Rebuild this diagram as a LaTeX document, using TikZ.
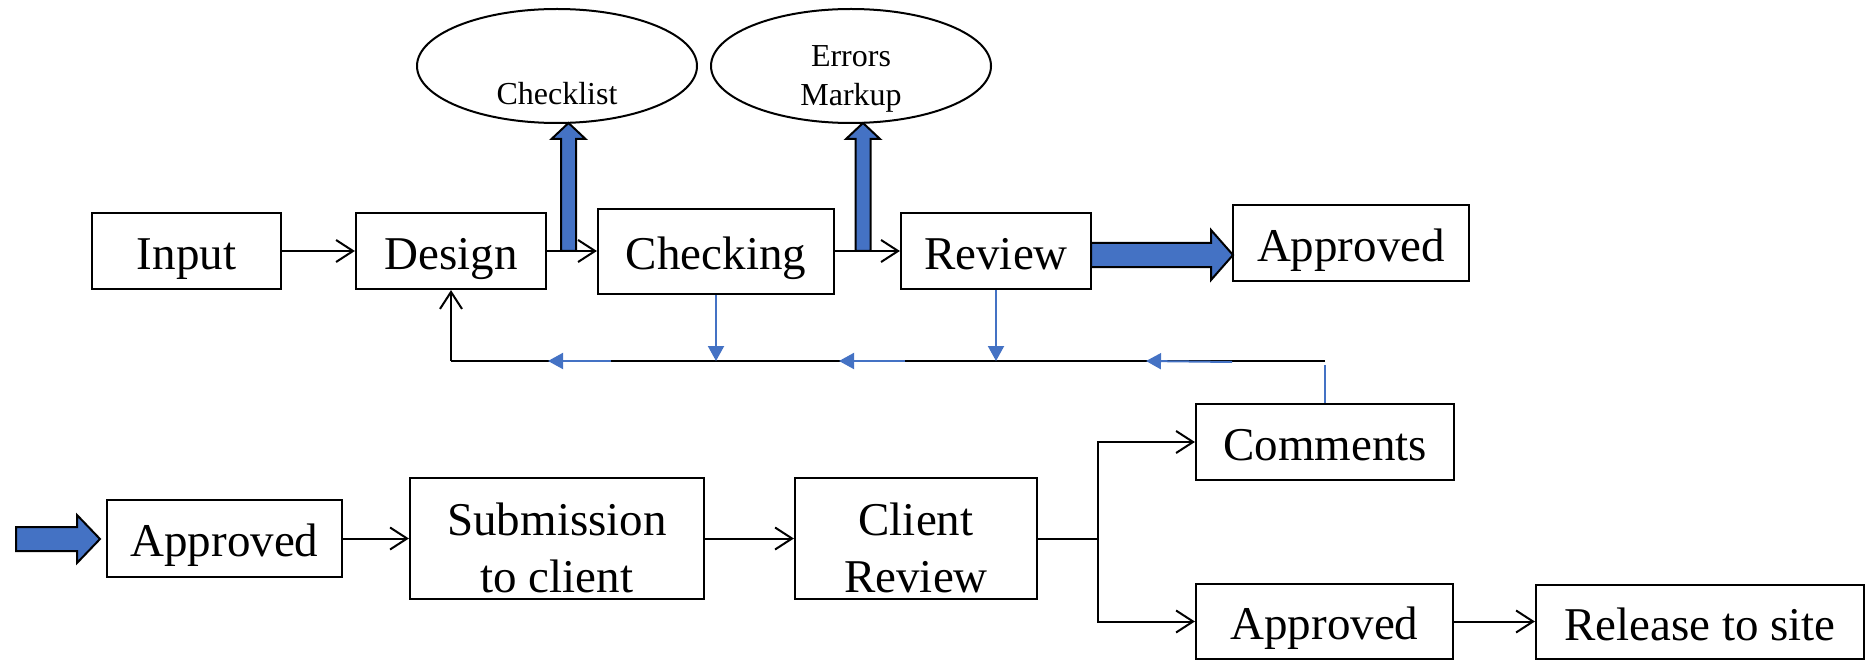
\documentclass[tikz,border=0pt]{standalone}
\usepackage{fontspec}
\setmainfont{Liberation Serif}
\usetikzlibrary{arrows.meta,shapes.geometric}
\definecolor{ofblue}{HTML}{4472C4}
\begin{document}
\begin{tikzpicture}[x=1pt,y=-1pt,
  box/.style={draw, line width=2.2pt, inner sep=0pt, font=\fontsize{47}{57}\selectfont, text height=44.6pt, text depth=8pt},
  emptybox/.style={draw, line width=2.2pt, inner sep=0pt},
  bigtext/.style={inner sep=0pt, font=\fontsize{47}{57}\selectfont, align=center},
  oval/.style={draw, ellipse, line width=2pt, minimum width=280pt, minimum height=114pt, inner sep=0pt},
  smalltext/.style={inner sep=0pt, font=\fontsize{32}{38.4}\selectfont, align=center},
  conn/.style={line width=2pt, -{Straight Barb[length=17pt,width=22pt,line width=2pt]}},
  plain/.style={line width=2pt},
  bconn/.style={ofblue, line width=2pt, -{Triangle[length=15pt,width=16pt]}},
  blockarrow/.style={fill=ofblue, draw=black, line width=2pt, line join=miter}
]
\useasboundingbox (0,0) rectangle (1867,660);

% top row
\node[box, minimum width=189pt, minimum height=76pt] (input) at (186.5,251) {Input};
\node[box, minimum width=190pt, minimum height=76pt] (design) at (451,251) {Design};
\node[box, minimum width=236pt, minimum height=85pt] (checking) at (716,251.5) {Checking};
\node[box, minimum width=190pt, minimum height=76pt] (review) at (996,251) {Review};
\node[box, minimum width=236pt, minimum height=76pt] (appr1) at (1351,243) {Approved};

% ellipses
\node[oval] (checklist) at (557,66) {};
\node[smalltext] (checklistt) at (557,94) {Checklist};
\node[oval] (errors) at (851,66) {};
\node[smalltext] (errorst) at (851,79) {Errors\\Markup};

% lower rows
\node[box, minimum width=258pt, minimum height=76pt] (comments) at (1325,442) {Comments};
\node[box, minimum width=235pt, minimum height=77pt] (appr2) at (224.5,538.5) {Approved};
\node[emptybox, minimum width=294pt, minimum height=121pt] (submission) at (557,538.5) {};
\node[bigtext] (submissiont) at (557,548) {Submission\\to client};
\node[emptybox, minimum width=242pt, minimum height=121pt] (client) at (916,538.5) {};
\node[bigtext] (clientt) at (916,548) {Client\\Review};
\node[box, minimum width=257pt, minimum height=75pt] (appr3) at (1324.5,621.5) {Approved};
\node[box, minimum width=328pt, minimum height=74pt] (release) at (1700,622) {Release to site};

% top connectors
\draw[conn] (input.east) -- (design.west);
\draw[conn] (design.east) -- (design.east -| checking.west);
\draw[conn] (checking.east |- review.west) -- (review.west);

% block arrows
\draw[blockarrow] (561,251) -- (561,139) -- (551.5,139) -- (568.5,123) -- (585.5,139) -- (576,139) -- (576,251) -- cycle;
\draw[blockarrow] (855.5,251) -- (855.5,139) -- (846,139) -- (863,123) -- (880,139) -- (870.5,139) -- (870.5,251) -- cycle;
\draw[blockarrow] (1091,243) -- (1211,243) -- (1211,230) -- (1233,255) -- (1211,280) -- (1211,267) -- (1091,267) -- cycle;
\draw[blockarrow] (16,527) -- (77,527) -- (77,515) -- (100,539) -- (77,563) -- (77,551) -- (16,551) -- cycle;

% feedback loop
\coordinate (fbR) at (1325,361);
\coordinate (fbL) at (451,361);
\draw[ofblue, line width=1.5pt] (comments.north) -- ([yshift=-4pt]fbR);
\draw[plain] (fbR) -- (fbL);
\draw[conn] (fbL) -- (design.south);
\draw[bconn] (checking.south) -- (checking.south |- fbL);
\draw[bconn] (review.south) -- (review.south |- fbL);
\coordinate (la1) at (611,361); \coordinate (lb1) at (548,361);
\coordinate (la2) at (905,361); \coordinate (lb2) at (839,361);
\coordinate (la3) at (1232,362); \coordinate (lb3) at (1146,361);
\draw[bconn] (la1) -- (lb1);
\draw[bconn] (la2) -- (lb2);
\draw[bconn] (la3) -- (lb3);

% bottom connectors
\draw[conn] (appr2.east) -- (submission.west);
\draw[conn] (submission.east) -- (client.west);
\coordinate (br) at (1098,538.5);
\draw[plain] (client.east) -- (br);
\draw[conn] (br) |- (comments.west);
\draw[conn] (br) |- (appr3.west);
\draw[conn] (appr3.east) -- (appr3.east -| release.west);
\end{tikzpicture}
\end{document}
